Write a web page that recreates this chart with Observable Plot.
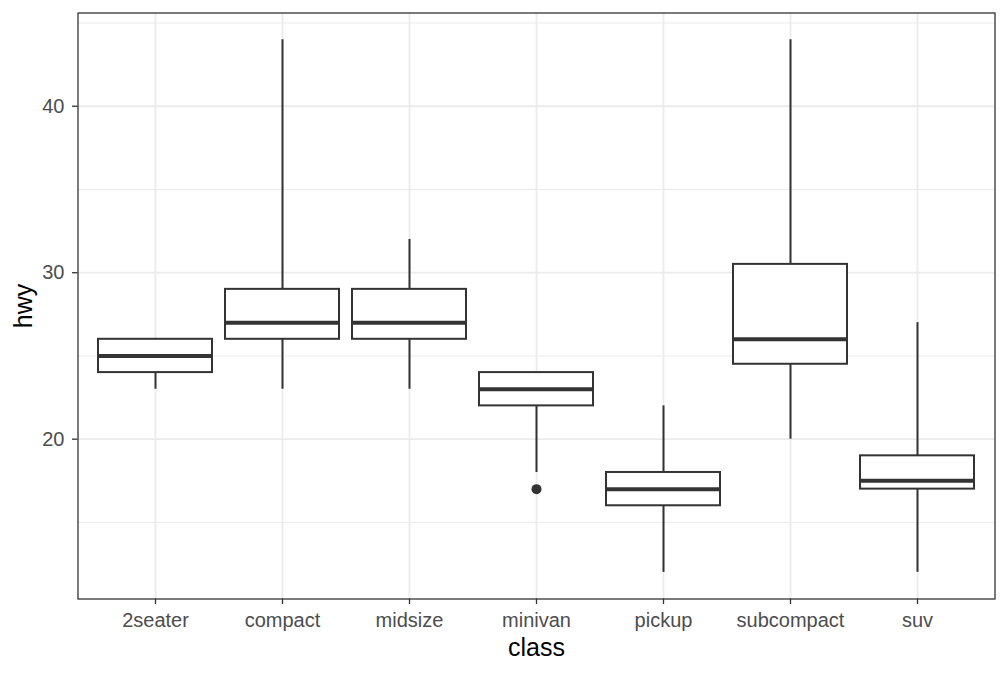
<!DOCTYPE html>
<html>
<head>
<meta charset="utf-8">
<script src="https://cdn.jsdelivr.net/npm/d3@7"></script>
<script src="https://cdn.jsdelivr.net/npm/@observablehq/plot@0.6"></script>
<style>
  html, body { margin: 0; padding: 0; background: #fff; }
  #chart svg { display: block; }
</style>
</head>
<body>
<div id="chart"></div>
<script>
// Data (hwy by class, boxplot stats)
const classes   = ["2seater", "compact", "midsize", "minivan", "pickup", "subcompact", "suv"];
const whiskLow  = [23, 23, 23, 18, 12, 20, 12];
const q1        = [24, 26, 26, 22, 16, 24.5, 17];
const median    = [25, 27, 27, 23, 17, 26, 17.5];
const q3        = [26, 29, 29, 24, 18, 30.5, 19];
const whiskHigh = [26, 44, 32, 24, 22, 44, 27];
const outlierClass = ["minivan"];
const outlierHwy   = [17];
const majorTicks = [20, 30, 40];
const minorTicks = [15, 25, 35, 45];

const boxes = classes.map((c, i) => ({
  class: c, lo: whiskLow[i], q1: q1[i], med: median[i], q3: q3[i], hi: whiskHigh[i]
}));
const outliers = outlierClass.map((c, i) => ({class: c, hwy: outlierHwy[i]}));

const ink = "#333333";
const grid = "#EBEBEB";

const chart = Plot.plot({
  width: 1008,
  height: 673,
  marginLeft: 77.5,
  marginRight: 13.5,
  marginTop: 12.5,
  marginBottom: 74.5,
  style: {fontFamily: "'Liberation Sans', Arial, Helvetica, sans-serif", background: "#fff"},
  x: {type: "band", domain: classes, paddingInner: 0.1, paddingOuter: 0.15},
  y: {domain: [10.4, 45.6]},
  marks: [
    Plot.ruleY(minorTicks, {stroke: grid, strokeWidth: 1}),
    Plot.ruleY(majorTicks, {stroke: grid, strokeWidth: 1.8}),
    Plot.ruleX(classes, {x: d => d, stroke: grid, strokeWidth: 1.8}),
    Plot.ruleX(boxes, {x: "class", y1: "lo", y2: "hi", stroke: ink, strokeWidth: 2}),
    Plot.barY(boxes, {x: "class", y1: "q1", y2: "q3", fill: "#fff", stroke: ink, strokeWidth: 2}),
    Plot.tickY(boxes, {x: "class", y: "med", stroke: ink, strokeWidth: 4}),
    Plot.dot(outliers, {x: "class", y: "hwy", r: 5, fill: ink, stroke: "none"}),
    Plot.frame({stroke: ink, strokeWidth: 1.3}),
    Plot.axisY({ticks: majorTicks, tickSize: 5.5, tickPadding: 8, fontSize: 20,
      stroke: ink, fill: "#4D4D4D", strokeWidth: 1.3,
      label: "hwy", labelArrow: false, labelAnchor: "center", labelOffset: 64}),
    Plot.axisX({tickSize: 5.5, tickPadding: 8, fontSize: 20,
      stroke: ink, fill: "#4D4D4D", strokeWidth: 1.3,
      label: "class", labelArrow: false, labelAnchor: "center", labelOffset: 57})
  ]
});
document.getElementById("chart").appendChild(chart);
// Axis titles: ggplot-like size and colour, no arrows
d3.select(chart).selectAll("g[aria-label='y-axis label'] text")
  .attr("font-size", 25).attr("fill", "#000").text("hwy");
d3.select(chart).selectAll("g[aria-label='x-axis label'] text")
  .attr("font-size", 25).attr("fill", "#000").text("class");
</script>
</body>
</html>
